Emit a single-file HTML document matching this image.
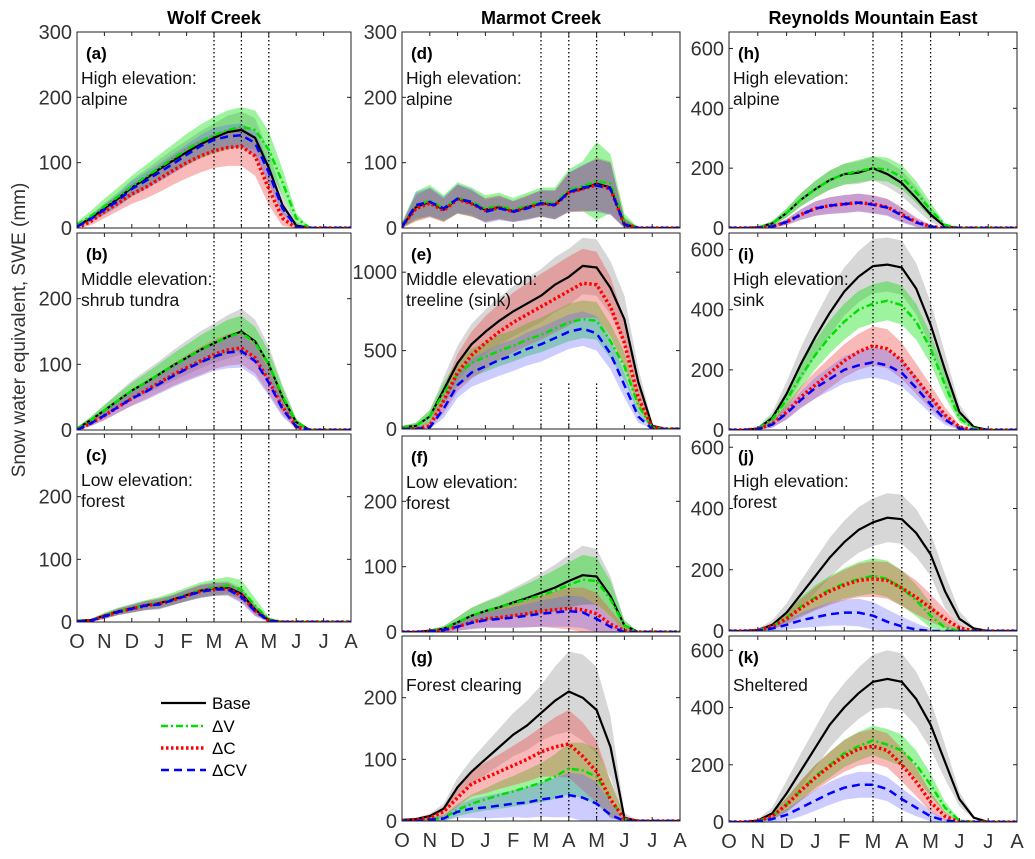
<!DOCTYPE html>
<html><head><meta charset="utf-8"><style>
html,body{margin:0;padding:0;background:#fff}
svg{display:block;font-family:"Liberation Sans",Arial,sans-serif}
</style></head><body>
<svg id="fig" width="1035" height="859" viewBox="0 0 1035 859" xmlns="http://www.w3.org/2000/svg">
<rect width="1035" height="859" fill="#fff"/>
<text x="214" y="24" font-size="18" font-weight="bold" text-anchor="middle">Wolf Creek</text>
<text x="541" y="24" font-size="18" font-weight="bold" text-anchor="middle">Marmot Creek</text>
<text x="873" y="24" font-size="18" font-weight="bold" text-anchor="middle">Reynolds Mountain East</text>
<text transform="translate(25,330) rotate(-90)" font-size="19" fill="#333" text-anchor="middle">Snow water equivalent, SWE (mm)</text>
<g>
<line x1="161" y1="703" x2="206" y2="703" stroke="#000" stroke-width="2.2"/>
<text x="212" y="709" font-size="17">Base</text>
<line x1="161" y1="726" x2="206" y2="726" stroke="#00e000" stroke-width="2.5" stroke-dasharray="7,3,2,3"/>
<text x="212" y="732" font-size="17">ΔV</text>
<line x1="161" y1="748" x2="206" y2="748" stroke="#ff0000" stroke-width="3.5" stroke-dasharray="2.5,2.5"/>
<text x="212" y="754" font-size="17">ΔC</text>
<line x1="161" y1="770" x2="206" y2="770" stroke="#0000ff" stroke-width="2.5" stroke-dasharray="8,5"/>
<text x="212" y="776" font-size="17">ΔCV</text>
</g>
</svg>
<script>
// x positions in months since Oct 1 (0..10 = Oct..Aug)
const months = [0,0.5,1,1.5,2,2.5,3,3.5,4,4.5,5,5.5,6,6.5,7,7.5,8,8.5,9,9.5,10];
const monthLabels = ["O","N","D","J","F","M","A","M","J","J","A"];
const markerMonths = [5,6,7];

// (a) Wolf Creek alpine
const aBase=[3,15,30,45,62,75,90,103,116,128,138,147,150,138,92,35,4,0,0,0,0];
const aV=[5,18,33,48,64,78,92,106,120,132,142,150,155,150,120,70,15,0,0,0,0];
const aC=[0,10,25,38,52,62,75,88,100,110,118,123,125,110,60,15,0,0,0,0,0];
const aCV=[2,14,28,42,60,72,85,98,112,125,135,140,142,130,85,30,2,0,0,0,0];
const aBaseS=[2,5,8,10,12,14,15,17,18,20,22,25,28,30,25,15,5,0,0,0,0];
const aVS=[4,8,12,14,16,18,20,22,24,26,28,30,30,30,28,20,8,0,0,0,0];
const aCS=[2,6,10,12,15,17,20,22,24,25,26,28,30,30,25,12,2,0,0,0,0];
const aCVS=[2,5,8,10,12,13,14,15,16,17,18,18,18,18,15,8,2,0,0,0,0];
// (b) Wolf Creek shrub tundra
const bBase=[2,15,30,45,60,72,85,98,110,122,132,142,150,135,100,50,12,0,0,0,0];
const bV=[2,15,30,45,60,72,85,98,110,122,132,142,148,133,100,52,12,0,0,0,0];
const bC=[0,10,22,35,48,60,72,84,95,105,115,122,125,110,75,35,5,0,0,0,0];
const bCV=[0,10,22,35,48,58,70,82,93,103,112,118,120,105,72,32,5,0,0,0,0];
const bBaseS=[2,5,8,12,15,18,20,23,26,28,30,33,35,33,28,18,6,0,0,0,0];
const bVS=[2,5,8,10,12,14,16,18,20,22,24,26,26,24,20,14,5,0,0,0,0];
const bCS=[1,4,7,9,11,13,15,17,19,21,22,24,25,24,20,12,3,0,0,0,0];
const bCVS=[1,4,7,9,11,13,15,17,19,21,22,24,25,24,20,12,3,0,0,0,0];
// (c) Wolf Creek forest
const cBase=[2,3,10,17,22,27,30,36,43,50,54,55,45,20,3,0,0,0,0,0,0];
const cV=[2,3,10,17,22,27,31,37,44,51,55,58,52,26,4,0,0,0,0,0,0];
const cC=[1,2,9,16,21,26,29,35,42,49,52,53,42,18,2,0,0,0,0,0,0];
const cCV=[1,2,9,16,21,26,28,35,42,48,52,52,40,17,2,0,0,0,0,0,0];
const cBaseS=[1,2,4,5,6,7,8,8,9,10,10,10,10,8,3,0,0,0,0,0,0];
const cVS=[1,2,5,6,7,8,9,10,11,12,13,14,15,12,4,0,0,0,0,0,0];
const cCS=[1,2,4,5,6,7,8,8,9,10,10,10,10,8,3,0,0,0,0,0,0];
const cCVS=[1,2,4,5,6,7,8,8,9,10,10,10,10,8,3,0,0,0,0,0,0];
// (d) Marmot alpine
const dBase=[2,32,40,28,45,38,28,32,26,32,38,36,55,60,68,62,6,0,0,0,0];
const dV=[3,34,42,30,46,40,30,34,28,34,40,38,58,64,72,68,10,0,0,0,0];
const dC=[2,30,38,27,44,37,27,31,25,31,37,35,54,60,66,60,5,0,0,0,0];
const dCV=[2,35,40,30,45,40,25,30,25,30,38,35,55,62,65,60,5,0,0,0,0];
const dBaseS=[5,20,22,18,22,20,18,18,16,18,20,22,30,35,40,40,10,0,0,0,0];
const dVS=[6,22,24,20,24,22,20,20,18,20,22,24,32,38,60,45,12,0,0,0,0];
const dCS=[5,20,22,18,22,20,18,18,16,18,20,22,30,35,40,40,10,0,0,0,0];
const dCVS=[5,20,22,18,22,20,18,18,16,18,20,22,30,35,40,40,10,0,0,0,0];
// (e) Marmot treeline (sink)
const eBase=[10,20,80,250,420,540,620,690,750,800,850,920,970,1040,1030,900,700,300,20,0,0];
const eV=[10,20,80,230,350,420,460,500,530,570,600,640,680,700,690,560,400,150,10,0,0];
const eC=[0,0,20,180,360,470,550,620,680,730,780,830,880,930,920,780,550,200,10,0,0];
const eCV=[0,0,10,130,280,360,400,440,470,510,540,580,620,640,610,480,280,80,0,0,0];
const eBaseS=[10,20,40,80,110,130,140,150,160,165,170,175,180,180,180,170,150,90,15,0,0];
const eVS=[10,20,40,70,80,90,95,100,100,105,110,115,120,120,120,110,90,50,10,0,0];
const eCS=[5,10,30,80,120,150,170,180,190,200,210,215,220,220,210,190,150,70,10,0,0];
const eCVS=[5,10,25,60,80,90,95,100,100,105,110,110,110,110,110,100,80,40,5,0,0];
// (f) Marmot low forest
const fBase=[0,0,2,5,15,25,32,38,45,52,60,68,78,87,85,55,10,0,0,0,0];
const fV=[0,0,2,5,15,25,32,38,44,50,56,63,72,80,78,50,10,0,0,0,0];
const fC=[0,0,1,3,8,15,20,22,25,28,32,34,36,34,28,12,2,0,0,0,0];
const fCV=[0,0,1,3,8,14,18,20,22,25,28,30,32,30,20,8,0,0,0,0,0];
const fBaseS=[0,1,2,4,8,12,15,18,22,26,30,35,40,45,42,30,8,0,0,0,0];
const fVS=[0,1,2,4,8,12,14,16,20,24,28,32,35,38,36,28,8,0,0,0,0];
const fCS=[0,1,2,3,6,10,13,15,18,21,24,28,32,34,32,22,6,0,0,0,0];
const fCVS=[0,1,2,3,6,10,12,14,16,18,20,22,24,24,22,14,4,0,0,0,0];
// (g) Marmot forest clearing
const gBase=[2,3,8,20,55,80,100,120,140,155,175,195,210,200,180,120,5,0,0,0,0];
const gV=[0,0,3,5,18,28,35,42,48,55,62,72,85,82,72,35,3,0,0,0,0];
const gC=[0,2,5,15,38,60,70,80,90,100,112,120,125,105,80,35,3,0,0,0,0];
const gCV=[0,0,2,4,15,20,22,25,28,30,35,38,42,38,28,10,0,0,0,0,0];
const gBaseS=[1,2,4,8,15,20,25,30,35,40,45,55,65,70,70,50,8,0,0,0,0];
const gVS=[1,1,3,5,10,15,18,22,25,28,32,36,42,45,45,30,5,0,0,0,0];
const gCS=[1,2,4,8,15,20,25,28,32,36,40,48,55,55,50,30,5,0,0,0,0];
const gCVS=[1,1,3,5,10,15,18,20,22,25,28,32,36,38,35,20,3,0,0,0,0];
// (h) RME alpine
const hBase=[0,0,2,15,50,95,130,160,180,185,200,180,150,100,45,5,0,0,0,0,0];
const hV=[0,0,2,15,50,95,130,160,180,190,200,195,170,120,60,10,0,0,0,0,0];
const hC=[0,0,0,5,20,45,65,75,80,85,80,70,45,20,5,0,0,0,0,0,0];
const hCV=[0,0,0,5,20,45,65,75,80,85,78,68,42,18,5,0,0,0,0,0,0];
const hBaseS=[0,0,2,8,15,22,28,32,35,38,40,42,42,38,25,5,0,0,0,0,0];
const hVS=[0,0,2,8,15,22,28,32,35,38,40,40,40,36,25,6,0,0,0,0,0];
const hCS=[0,0,1,4,10,18,24,28,30,30,30,28,24,15,5,0,0,0,0,0,0];
const hCVS=[0,0,1,4,10,18,24,28,30,30,30,28,24,15,5,0,0,0,0,0,0];
// (i) RME sink
const iBase=[0,0,5,40,120,220,310,390,460,510,545,550,540,470,350,200,60,10,0,0,0];
const iV=[0,0,5,35,100,180,250,310,360,400,420,430,415,360,270,150,40,5,0,0,0];
const iC=[0,0,3,20,60,110,150,190,230,260,280,270,230,170,110,50,10,0,0,0,0];
const iCV=[0,0,3,18,55,100,140,170,200,215,225,215,190,140,85,35,5,0,0,0,0];
const iBaseS=[0,0,5,20,40,55,65,75,80,85,90,90,90,85,75,55,25,5,0,0,0];
const iVS=[0,0,4,15,30,40,48,55,60,62,65,65,65,60,50,40,15,3,0,0,0];
const iCS=[0,0,3,12,25,35,45,50,55,60,65,65,60,50,40,25,8,0,0,0,0];
const iCVS=[0,0,3,10,20,28,35,40,45,48,50,50,45,40,30,18,5,0,0,0,0];
// (j) RME high forest
const jBase=[0,0,3,20,60,120,180,240,290,330,355,370,365,320,250,130,40,8,0,0,0];
const jV=[0,0,2,15,45,80,110,135,155,170,180,170,140,100,50,10,0,0,0,0,0];
const jC=[0,0,2,15,40,75,105,130,150,165,170,165,140,110,75,40,10,0,0,0,0];
const jCV=[0,0,1,8,20,35,45,55,60,60,50,30,15,5,0,0,0,0,0,0,0];
const jBaseS=[0,0,4,15,30,45,55,65,70,75,78,80,80,78,70,55,25,5,0,0,0];
const jVS=[0,0,3,10,20,30,40,45,50,55,58,60,58,52,40,20,5,0,0,0,0];
const jCS=[0,0,3,10,20,30,38,45,50,55,58,60,58,55,45,30,10,0,0,0,0];
const jCVS=[0,0,2,8,15,25,32,38,42,45,45,40,32,20,8,0,0,0,0,0,0];
// (k) RME sheltered
const kBase=[0,0,5,30,100,180,260,340,400,450,490,500,490,430,340,210,80,15,0,0,0];
const kV=[0,0,3,20,60,110,160,200,240,265,285,270,250,200,130,50,5,0,0,0,0];
const kC=[0,0,3,20,60,110,155,195,230,255,265,250,200,140,70,20,0,0,0,0,0];
const kCV=[0,0,2,10,25,50,75,100,120,130,130,115,80,50,20,5,0,0,0,0,0];
const kBaseS=[0,0,5,20,45,60,70,80,85,90,95,100,100,95,85,60,25,5,0,0,0];
const kVS=[0,0,3,12,25,35,40,45,48,50,52,55,55,50,40,20,4,0,0,0,0];
const kCS=[0,0,3,12,25,35,45,50,55,58,60,60,58,50,35,15,2,0,0,0,0];
const kCVS=[0,0,2,10,20,30,36,40,42,45,45,42,38,30,18,6,0,0,0,0,0];

const NS='http://www.w3.org/2000/svg';
const svg=document.getElementById('fig');
function mk(tag,attrs,parent){const e=document.createElementNS(NS,tag);for(const k in attrs)e.setAttribute(k,attrs[k]);(parent||svg).appendChild(e);return e;}

const bandFill={base:'rgba(150,150,150,0.38)',v:'rgba(0,225,0,0.38)',c:'rgba(240,70,70,0.38)',cv:'rgba(100,100,255,0.33)'};
const lineSt={
 base:{stroke:'#000','stroke-width':2.2,'stroke-dasharray':'none'},
 v:{stroke:'#00e000','stroke-width':2.5,'stroke-dasharray':'7,3,2,3'},
 c:{stroke:'#ff0000','stroke-width':3.5,'stroke-dasharray':'2.5,2.5'},
 cv:{stroke:'#0000ff','stroke-width':2.5,'stroke-dasharray':'8,5'}
};

const panels=[
 {id:'a',x0:77,x1:351,y0:32,y1:228,ymax:300,ticks:[0,100,200,300],xl:false,txt:['High elevation:','alpine'],d:{base:[aBase,aBaseS],v:[aV,aVS],c:[aC,aCS],cv:[aCV,aCVS]}},
 {id:'b',x0:77,x1:351,y0:233,y1:430,ymax:300,ticks:[0,100,200],xl:false,txt:['Middle elevation:','shrub tundra'],d:{base:[bBase,bBaseS],v:[bV,bVS],c:[bC,bCS],cv:[bCV,bCVS]}},
 {id:'c',x0:77,x1:351,y0:434,y1:622,ymax:300,ticks:[0,100,200],xl:true,txt:['Low elevation:','forest'],d:{base:[cBase,cBaseS],v:[cV,cVS],c:[cC,cCS],cv:[cCV,cCVS]}},
 {id:'d',x0:402,x1:680,y0:32,y1:228,ymax:300,ticks:[0,100,200,300],xl:false,txt:['High elevation:','alpine'],d:{base:[dBase,dBaseS],v:[dV,dVS],c:[dC,dCS],cv:[dCV,dCVS]}},
 {id:'e',x0:402,x1:680,y0:233,y1:429,ymax:1250,ticks:[0,500,1000],xl:false,txt:['Middle elevation:',' treeline (sink)'],vfrom:290,d:{base:[eBase,eBaseS],v:[eV,eVS],c:[eC,eCS],cv:[eCV,eCVS]}},
 {id:'f',x0:402,x1:680,y0:436,y1:632,ymax:300,ticks:[0,100,200],xl:false,txt:['Low elevation:','forest'],d:{base:[fBase,fBaseS],v:[fV,fVS],c:[fC,fCS],cv:[fCV,fCVS]}},
 {id:'g',x0:402,x1:680,y0:636,y1:821,ymax:300,ticks:[0,100,200],xl:true,txt:['Forest clearing'],d:{base:[gBase,gBaseS],v:[gV,gVS],c:[gC,gCS],cv:[gCV,gCVS]}},
 {id:'h',x0:729,x1:1017,y0:32,y1:228,ymax:655,ticks:[0,200,400,600],xl:false,txt:['High elevation:','alpine'],d:{base:[hBase,hBaseS],v:[hV,hVS],c:[hC,hCS],cv:[hCV,hCVS]}},
 {id:'i',x0:729,x1:1017,y0:233,y1:430,ymax:655,ticks:[0,200,400,600],xl:false,txt:['High elevation:','sink'],d:{base:[iBase,iBaseS],v:[iV,iVS],c:[iC,iCS],cv:[iCV,iCVS]}},
 {id:'j',x0:729,x1:1017,y0:435,y1:631,ymax:640,ticks:[0,200,400,600],xl:false,txt:['High elevation:','forest'],d:{base:[jBase,jBaseS],v:[jV,jVS],c:[jC,jCS],cv:[jCV,jCVS]}},
 {id:'k',x0:729,x1:1017,y0:636,y1:822,ymax:650,ticks:[0,200,400,600],xl:true,txt:['Sheltered'],d:{base:[kBase,kBaseS],v:[kV,kVS],c:[kC,kCS],cv:[kCV,kCVS]}}
];
const names={base:'base',v:'delta-v',c:'delta-c',cv:'delta-cv'};

panels.forEach(p=>{
 const g=mk('g',{});
 
 
 const cid='clip'+p.id;
 const cp=mk('clipPath',{id:cid},g);
 mk('rect',{x:p.x0,y:p.y0,width:p.x1-p.x0,height:p.y1-p.y0},cp);
 const X=m=>p.x0+(p.x1-p.x0)*m/10;
 const Y=v=>p.y1-(p.y1-p.y0)*v/p.ymax;
 const plot=mk('g',{'clip-path':'url(#'+cid+')'},g);
 ['base','v','c','cv'].forEach(k=>{
  const [m,s]=p.d[k];
  let up=months.map((t,i)=>X(t).toFixed(1)+','+Y(m[i]+s[i]).toFixed(1));
  let lo=months.map((t,i)=>X(t).toFixed(1)+','+Y(Math.max(0,m[i]-s[i])).toFixed(1)).reverse();
  const b=mk('polygon',{points:up.concat(lo).join(' '),fill:bandFill[k],stroke:'none'},plot);
  
  
 });
 markerMonths.forEach(mm=>{
  const yTop=p.vfrom!==undefined?Y(p.vfrom):p.y0;
  const l=mk('line',{x1:X(mm),x2:X(mm),y1:yTop,y2:p.y1,stroke:'#000','stroke-width':1.3,'stroke-dasharray':'1.5,2.5'},plot);
  
  
 });
 ['base','v','c','cv'].forEach(k=>{
  const m=p.d[k][0];
  const pts=months.map((t,i)=>X(t).toFixed(1)+','+Y(m[i]).toFixed(1)).join(' ');
  const st=lineSt[k];
  const l=mk('polyline',{points:pts,fill:'none',stroke:st.stroke,'stroke-width':st['stroke-width'],'stroke-dasharray':st['stroke-dasharray'],'stroke-linejoin':'round'},plot);
  
  
 });
 // ticks
 for(let mth=1;mth<10;mth++){
  mk('line',{x1:X(mth),x2:X(mth),y1:p.y1,y2:p.y1-4,stroke:'#222','stroke-width':1},g);
  mk('line',{x1:X(mth),x2:X(mth),y1:p.y0,y2:p.y0+4,stroke:'#222','stroke-width':1},g);
 }
 p.ticks.forEach(t=>{
  const y=Y(t);
  if(t>0){
   mk('line',{x1:p.x0,x2:p.x0+4,y1:y,y2:y,stroke:'#222','stroke-width':1},g);
   mk('line',{x1:p.x1,x2:p.x1-4,y1:y,y2:y,stroke:'#222','stroke-width':1},g);
  }
  const tl=mk('text',{x:p.x0-5,y:y+7,'font-size':20,fill:'#333','text-anchor':'end'},g);
  tl.textContent=String(t);
  
  
 });
 if(p.xl){
  monthLabels.forEach((lab,i)=>{
   const tl=mk('text',{x:X(i),y:p.y1+26,'font-size':20,fill:'#333','text-anchor':'middle'},g);
   tl.textContent=lab;
   
   
  });
 }
 const box=mk('rect',{x:p.x0,y:p.y0,width:p.x1-p.x0,height:p.y1-p.y0,fill:'none',stroke:'#222','stroke-width':1},g);
 
 
 const lt=mk('text',{x:p.x0+9,y:p.y0+27,'font-size':17,'font-weight':'bold'},g);
 lt.textContent='('+p.id+')';
 
 
 p.txt.forEach((s,i)=>{
  const t=mk('text',{x:p.x0+4,y:p.y0+(p.txt.length===1?55:52)+i*21,'font-size':17.5,fill:'#111','xml:space':'preserve'},g);
  t.textContent=s;
  
  
 });
});
</script>
</body></html>
